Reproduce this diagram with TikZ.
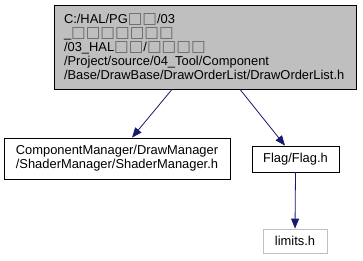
\documentclass[tikz,border=0pt]{standalone}
\usepackage{fontspec}
\setmainfont{Liberation Sans}
\newfontfamily\boxfont{DejaVu Sans}
\usetikzlibrary{arrows.meta}

\definecolor{edgeblue}{HTML}{191970}
\definecolor{rootgray}{HTML}{BFBFBF}
% glyph the path names could not be shown with
\newcommand{\tofu}{{\boxfont\fontsize{15.5}{14}\selectfont\textcolor{black!60}{□}}}

\begin{document}
\begin{tikzpicture}[x=1pt, y=1pt,
    font=\fontsize{12.9}{14}\selectfont,
    filebox/.style={draw=black, fill=white, line width=0.8pt, inner sep=0pt, align=center},
    rootbox/.style={filebox, fill=rootgray, text width=282pt, inner xsep=10pt, align=left},
    sysbox/.style={filebox, draw=rootgray},
    dep/.style={draw=edgeblue, line width=0.8pt, -{Triangle[length=10pt, width=8pt]}}]
  \useasboundingbox (0,0) rectangle (363,-260);

  \node[rootbox, minimum width=302pt, minimum height=84pt] (src) at (205,-47)
    {C:/HAL/PG\tofu\tofu/03\\
     \_\tofu\tofu\tofu\tofu\tofu\tofu\tofu\\
     /03\_HAL\tofu\tofu/\tofu\tofu\tofu\tofu\\
     /Project/source/04\_Tool/Component\\
     /Base/DrawBase/DrawOrderList/DrawOrderList.h};
  \node[filebox, minimum width=226pt, minimum height=41pt] (shader) at (117,-158.5)
    {ComponentManager/DrawManager\\/ShaderManager/ShaderManager.h};
  \node[filebox, minimum width=87pt, minimum height=26pt] (flag) at (295.5,-159) {Flag/Flag.h};
  \node[sysbox, minimum width=64pt, minimum height=24pt] (limits) at (295,-241) {limits.h};

  \draw[dep] ([xshift=-33pt]src.south) -- ([xshift=15pt]shader.north);
  \draw[dep] ([xshift=35pt]src.south) -- ([xshift=-10.5pt]flag.north);
  \draw[dep] (flag.south) -- (limits.north);
\end{tikzpicture}
\end{document}
